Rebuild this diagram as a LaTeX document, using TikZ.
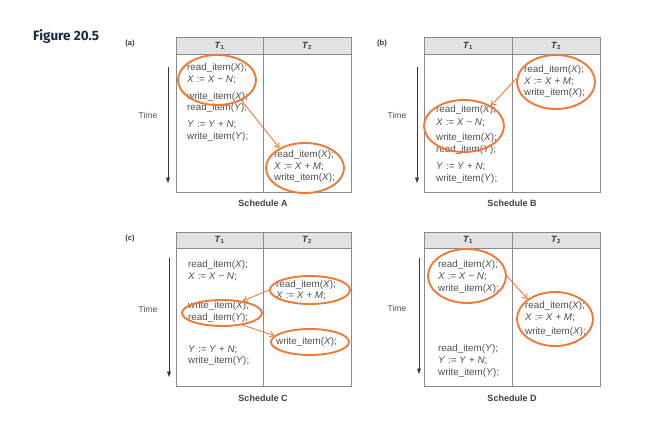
\documentclass[tikz,border=0pt]{standalone}
\usepackage{fontspec}
\setmainfont{Liberation Sans}
\newfontfamily\titlefont{Fira Sans}
\usetikzlibrary{shapes.geometric,arrows.meta}
\definecolor{txt}{HTML}{505050}
\definecolor{org}{HTML}{EE7A38}
\definecolor{rulec}{HTML}{8A8A8A}
\definecolor{hdr}{HTML}{E2E2E2}
\definecolor{navy}{HTML}{1B2A44}
\newcommand\rdX{read\_item(\textit{X});}
\newcommand\wrX{write\_item(\textit{X});}
\newcommand\rdY{read\_item(\textit{Y});}
\newcommand\wrY{write\_item(\textit{Y});}
\newcommand\subXN{\textit{X} := \textit{X} − \textit{N};}
\newcommand\addXM{\textit{X} := \textit{X} + \textit{M};}
\newcommand\addYN{\textit{Y} := \textit{Y} + \textit{N};}
\newcommand\Tone{\textit{T}\textsubscript{1}}
\newcommand\Ttwo{\textit{T}\textsubscript{2}}
\tikzset{
 code/.style={inner sep=0pt, anchor=west, text height=7pt, text depth=2pt, font=\fontsize{9.8}{11}\selectfont, text=txt},
 ell/.style={draw=org, line width=1.9pt, ellipse, inner sep=0pt},
 link/.style={draw=org, line width=0.9pt, -{Straight Barb[length=4pt,width=6pt]}},
 timearrow/.style={draw=txt!70!black, line width=0.7pt, -{Triangle[length=5.5pt,width=3.8pt]}},
 hdrbox/.style={fill=hdr, draw=rulec, line width=0.7pt},
 frame/.style={draw=rulec, line width=0.8pt},
 caption/.style={font=\bfseries\fontsize{9}{11}\selectfont, text=txt!80!black},
 tlabel/.style={font=\fontsize{8.5}{10}\selectfont, text=txt},
 plabel/.style={font=\bfseries\fontsize{7.5}{9}\selectfont, text=txt!70!black},
 thead/.style={font=\bfseries\fontsize{9}{10}\selectfont, text=txt!70!black},
}
\begin{document}
\begin{tikzpicture}[x=1pt,y=-1pt]
\useasboundingbox[fill=white] (0,0) rectangle (656,428);
% title
\node[anchor=base west, inner sep=0pt, font=\titlefont\bfseries\fontsize{13.5}{15}\selectfont, text=navy] (title) at (33,41) {Figure 20.5};
% ---------- tables ----------
% (a)
\draw[hdrbox] (176,37) rectangle (351,54);
\draw[frame] (176,37) rectangle (351,192);
\draw[frame] (263,37) -- (263,192);
\node[thead] (aT1) at (219.5,45.5) {\Tone};
\node[thead] (aT2) at (307,45.5) {\Ttwo};
% (b)
\draw[hdrbox] (424,37) rectangle (600,54);
\draw[frame] (424,37) rectangle (600,192);
\draw[frame] (512,37) -- (512,192);
\node[thead] (bT1) at (468,45.5) {\Tone};
\node[thead] (bT2) at (556,45.5) {\Ttwo};
% (c)
\draw[hdrbox] (176,232) rectangle (351,248);
\draw[frame] (176,232) rectangle (351,386);
\draw[frame] (263,232) -- (263,386);
\node[thead] (cT1) at (219.5,240) {\Tone};
\node[thead] (cT2) at (307,240) {\Ttwo};
% (d)
\draw[hdrbox] (424,232) rectangle (600,248);
\draw[frame] (424,232) rectangle (600,386);
\draw[frame] (512,232) -- (512,386);
\node[thead] (dT1) at (468,240) {\Tone};
\node[thead] (dT2) at (556,240) {\Ttwo};
% panel labels
\node[plabel] (pa) at (130,44) {(a)};
\node[plabel] (pb) at (382,44) {(b)};
\node[plabel] (pc) at (130,239) {(c)};
% captions
\node[caption] (capA) at (263,203) {Schedule A};
\node[caption] (capB) at (512,203) {Schedule B};
\node[caption] (capC) at (263,398) {Schedule C};
\node[caption] (capD) at (512,398) {Schedule D};
% time labels and arrows
\node[tlabel] (timeA) at (148,115) {Time};
\node[tlabel] (timeB) at (397,115) {Time};
\node[tlabel] (timeC) at (148,309) {Time};
\node[tlabel] (timeD) at (397,308) {Time};
\coordinate (ta0) at (168,67);  \coordinate (ta1) at (168,183);
\coordinate (tb0) at (417,67);  \coordinate (tb1) at (417,183);
\coordinate (tc0) at (169,258); \coordinate (tc1) at (169,377);
\coordinate (td0) at (419,258); \coordinate (td1) at (419,374);
\draw[timearrow] (ta0) -- (ta1);
\draw[timearrow] (tb0) -- (tb1);
\draw[timearrow] (tc0) -- (tc1);
\draw[timearrow] (td0) -- (td1);
% ---------- code ----------
% (a) T1
\node[code] (a11) at (187,68) {\rdX};
\node[code] (a12) at (187,80) {\subXN};
\node[code] (a13) at (187,97) {\wrX};
\node[code] (a14) at (187,108) {\rdY};
\node[code] (a15) at (187,125) {\addYN};
\node[code] (a16) at (187,137) {\wrY};
% (a) T2
\node[code] (a21) at (274,155) {\rdX};
\node[code] (a22) at (274,167) {\addXM};
\node[code] (a23) at (274,178) {\wrX};
% (b) T2
\node[code] (b21) at (524,70) {\rdX};
\node[code] (b22) at (524,82) {\addXM};
\node[code] (b23) at (524,93) {\wrX};
% (b) T1
\node[code] (b11) at (436,110) {\rdX};
\node[code] (b12) at (436,123) {\subXN};
\node[code] (b13) at (436,138) {\wrX};
\node[code] (b14) at (436,150) {\rdY};
\node[code] (b15) at (436,167) {\addYN};
\node[code] (b16) at (436,179) {\wrY};
% (c) T1
\node[code] (c11) at (188,265) {\rdX};
\node[code] (c12) at (188,277) {\subXN};
\node[code] (c13) at (188,306) {\wrX};
\node[code] (c14) at (188,318) {\rdY};
\node[code] (c15) at (188,350) {\addYN};
\node[code] (c16) at (188,361) {\wrY};
% (c) T2
\node[code] (c21) at (276,285) {\rdX};
\node[code] (c22) at (276,296) {\addXM};
\node[code] (c23) at (276,342) {\wrX};
% (d) T1
\node[code] (d11) at (438,265) {\rdX};
\node[code] (d12) at (438,277) {\subXN};
\node[code] (d13) at (438,289) {\wrX};
\node[code] (d14) at (438,349) {\rdY};
\node[code] (d15) at (438,361) {\addYN};
\node[code] (d16) at (438,373) {\wrY};
% (d) T2
\node[code] (d21) at (525,306) {\rdX};
\node[code] (d22) at (525,318) {\addXM};
\node[code] (d23) at (525,332) {\wrX};
% ---------- ellipses ----------
\node[ell, minimum width=78pt, minimum height=50pt] (ea1) at (217,80) {};
\node[ell, minimum width=78pt, minimum height=50pt] (ea2) at (305,168) {};
\node[ell, minimum width=78pt, minimum height=54pt] (eb2) at (556,82) {};
\node[ell, minimum width=80pt, minimum height=52pt] (eb1) at (464,126) {};
\node[ell, minimum width=80pt, minimum height=28pt] (ec2a) at (310,290) {};
\node[ell, minimum width=80pt, minimum height=26pt] (ec1) at (222,313) {};
\node[ell, minimum width=78pt, minimum height=26pt] (ec2b) at (310,342) {};
\node[ell, minimum width=78pt, minimum height=54pt] (ed1) at (467,276) {};
\node[ell, minimum width=76pt, minimum height=54pt] (ed2) at (555,319) {};
% ---------- links ----------
\draw[link] (ea1.-40) -- (ea2.142);
\draw[link] (eb2.175) -- (eb1.37);
\draw[link] (ec2a.180) -- (ec1.30);
\draw[link] (ec1.-30) -- (ec2b.170);
\draw[link] (ed1.0) -- (ed2.144);
\end{tikzpicture}
\end{document}
